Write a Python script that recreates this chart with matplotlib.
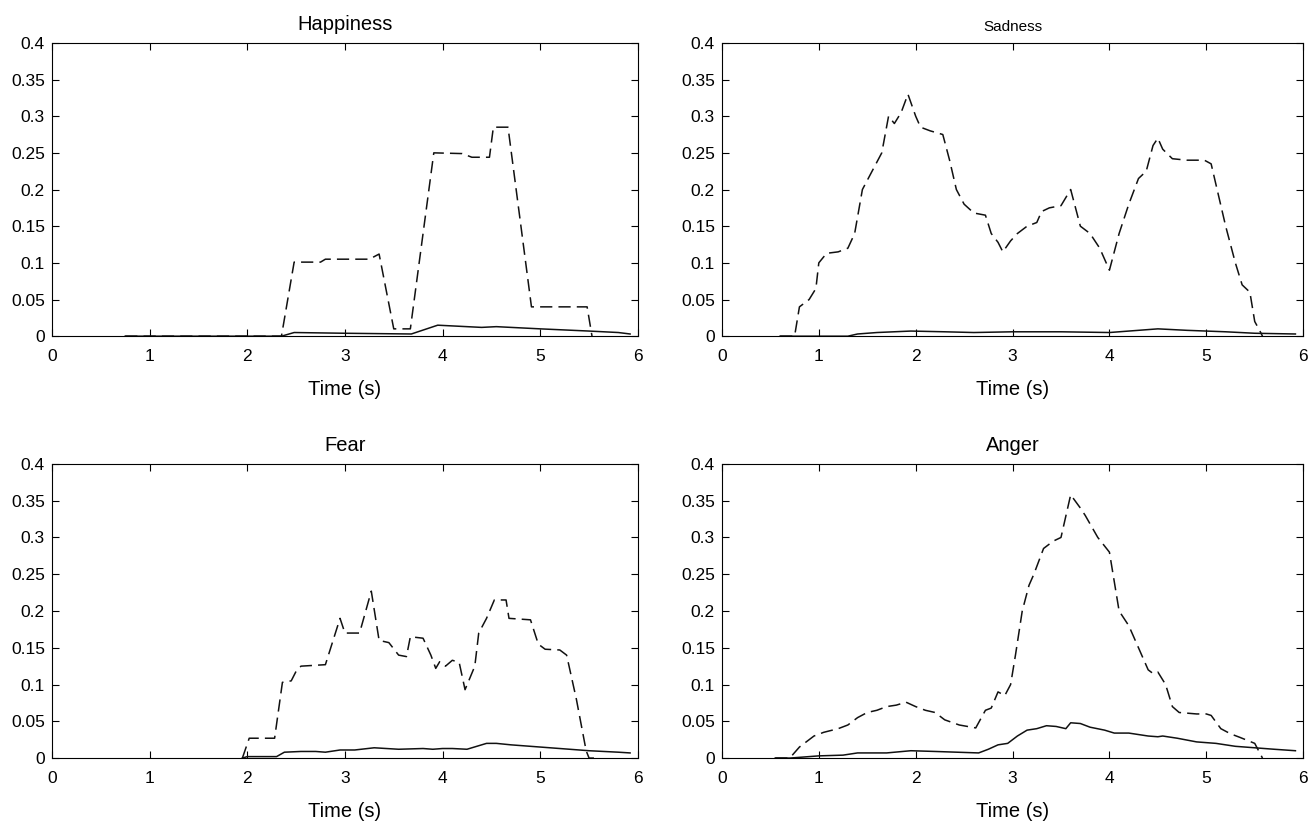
import matplotlib
matplotlib.use('Agg')
import matplotlib.pyplot as plt

plt.rcParams['font.family'] = ['Liberation Sans', 'DejaVu Sans']

titles = ['Happiness', 'Sadness', 'Fear', 'Anger']

# Happiness
hap_dash_t = [0.75, 2.35, 2.48, 2.75, 2.8, 3.25, 3.35, 3.5, 3.67, 3.91, 4.2, 4.3, 4.48, 4.52, 4.67, 4.91, 5.48, 5.53]
hap_dash_v = [0.0, 0.0, 0.101, 0.101, 0.105, 0.105, 0.112, 0.01, 0.01, 0.25, 0.249, 0.244, 0.244, 0.285, 0.285, 0.04, 0.04, 0.0]
hap_solid_t = [0.75, 2.35, 2.48, 3.0, 3.68, 3.95, 4.4, 4.55, 5.0, 5.5, 5.8, 5.92]
hap_solid_v = [0.0, 0.0, 0.005, 0.004, 0.003, 0.015, 0.012, 0.013, 0.01, 0.007, 0.005, 0.003]

# Sadness
sad_dash_t = [0.6, 0.75, 0.8, 0.9, 0.97, 1.0, 1.08, 1.2, 1.3, 1.37, 1.45, 1.55, 1.65, 1.72, 1.78, 1.85, 1.92,
              2.0, 2.05, 2.15, 2.28, 2.35, 2.42, 2.5, 2.6, 2.72, 2.78, 2.85, 2.9, 2.98, 3.05, 3.15, 3.25, 3.3,
              3.38, 3.5, 3.6, 3.7, 3.8, 3.9, 4.0, 4.1, 4.2, 4.3, 4.38, 4.45, 4.5, 4.55, 4.65, 4.8, 4.98, 5.05,
              5.2, 5.3, 5.37, 5.45, 5.5, 5.55, 5.58]
sad_dash_v = [0.0, 0.0, 0.04, 0.05, 0.065, 0.1, 0.113, 0.115, 0.12, 0.14, 0.2, 0.225, 0.25, 0.3, 0.29, 0.305, 0.33,
              0.3, 0.285, 0.28, 0.275, 0.24, 0.2, 0.18, 0.168, 0.165, 0.14, 0.128, 0.115, 0.13, 0.14, 0.15, 0.155, 0.17,
              0.175, 0.178, 0.2, 0.15, 0.14, 0.12, 0.09, 0.14, 0.18, 0.215, 0.225, 0.26, 0.27, 0.255, 0.242, 0.24, 0.24, 0.235,
              0.15, 0.1, 0.07, 0.06, 0.02, 0.008, 0.0]
sad_solid_t = [0.6, 1.3, 1.4, 1.6, 1.95, 2.3, 2.6, 3.0, 3.5, 4.0, 4.2, 4.5, 4.8, 5.2, 5.5, 5.92]
sad_solid_v = [0.0, 0.0, 0.003, 0.005, 0.007, 0.006, 0.005, 0.006, 0.006, 0.005, 0.007, 0.01, 0.008, 0.006, 0.004, 0.003]

# Fear
fear_dash_t = [1.95, 2.02, 2.28, 2.36, 2.45, 2.5, 2.55, 2.8, 2.95, 3.0, 3.15, 3.27, 3.35, 3.45, 3.55, 3.63, 3.67,
               3.8, 3.88, 3.93, 3.97, 4.03, 4.1, 4.17, 4.23, 4.33, 4.37, 4.45, 4.53, 4.65, 4.68, 4.9, 4.98, 5.05,
               5.2, 5.27, 5.37, 5.47, 5.5, 5.55]
fear_dash_v = [0.0, 0.027, 0.027, 0.103, 0.105, 0.118, 0.125, 0.127, 0.19, 0.17, 0.17, 0.227, 0.16, 0.157, 0.14, 0.138, 0.165,
               0.163, 0.14, 0.122, 0.131, 0.125, 0.133, 0.13, 0.093, 0.125, 0.17, 0.19, 0.215, 0.215, 0.19, 0.188, 0.155, 0.148,
               0.147, 0.14, 0.08, 0.01, 0.0, 0.0]
fear_solid_t = [1.95, 2.0, 2.3, 2.38, 2.55, 2.7, 2.8, 2.95, 3.1, 3.3, 3.55, 3.8, 3.9, 4.0, 4.1, 4.25, 4.45, 4.55, 4.7,
                5.0, 5.3, 5.5, 5.8, 5.92]
fear_solid_v = [0.0, 0.002, 0.002, 0.008, 0.009, 0.009, 0.008, 0.011, 0.011, 0.014, 0.012, 0.013, 0.012, 0.013, 0.013, 0.012,
                0.02, 0.02, 0.018, 0.015, 0.012, 0.01, 0.008, 0.007]

# Anger
ang_dash_t = [0.55, 0.7, 0.8, 0.85, 0.95, 1.05, 1.2, 1.3, 1.4, 1.5, 1.6, 1.7, 1.8, 1.9, 2.0, 2.1, 2.2, 2.3, 2.45,
              2.62, 2.72, 2.78, 2.85, 2.92, 2.98, 3.03, 3.1, 3.17, 3.22, 3.32, 3.42, 3.5, 3.6, 3.7, 3.75, 3.88, 4.0,
              4.1, 4.2, 4.3, 4.4, 4.45, 4.5, 4.58, 4.65, 4.72, 4.9, 5.0, 5.05, 5.15, 5.25, 5.35, 5.5, 5.58]
ang_dash_v = [0.0, 0.0, 0.015, 0.02, 0.03, 0.035, 0.04, 0.045, 0.055, 0.062, 0.065, 0.07, 0.072, 0.076, 0.07, 0.065, 0.062, 0.052, 0.045,
              0.041, 0.065, 0.068, 0.09, 0.085, 0.1, 0.14, 0.2, 0.235, 0.25, 0.285, 0.295, 0.3, 0.358, 0.34, 0.33, 0.3, 0.28,
              0.2, 0.18, 0.15, 0.12, 0.115, 0.117, 0.1, 0.07, 0.062, 0.06, 0.06, 0.058, 0.04, 0.033, 0.028, 0.02, 0.0]
ang_solid_t = [0.55, 0.7, 1.0, 1.25, 1.4, 1.7, 1.95, 2.2, 2.65, 2.75, 2.85, 2.95, 3.05, 3.15, 3.25, 3.35, 3.45, 3.55, 3.6,
               3.7, 3.8, 3.95, 4.05, 4.2, 4.4, 4.5, 4.55, 4.7, 4.9, 5.1, 5.3, 5.5, 5.7, 5.92]
ang_solid_v = [0.0, 0.0, 0.003, 0.004, 0.007, 0.007, 0.01, 0.009, 0.007, 0.012, 0.018, 0.02, 0.03, 0.038, 0.04, 0.044, 0.043, 0.04, 0.048,
               0.047, 0.042, 0.038, 0.034, 0.034, 0.03, 0.029, 0.03, 0.027, 0.022, 0.02, 0.016, 0.014, 0.012, 0.01]

dash_series = [(hap_dash_t, hap_dash_v), (sad_dash_t, sad_dash_v), (fear_dash_t, fear_dash_v), (ang_dash_t, ang_dash_v)]
solid_series = [(hap_solid_t, hap_solid_v), (sad_solid_t, sad_solid_v), (fear_solid_t, fear_solid_v), (ang_solid_t, ang_solid_v)]

yticks = [0, 0.05, 0.1, 0.15, 0.2, 0.25, 0.3, 0.35, 0.4]
ytick_labels = ['0', '0.05', '0.1', '0.15', '0.2', '0.25', '0.3', '0.35', '0.4']

fig = plt.figure(figsize=(13.15, 8.24), dpi=100)
positions = [
    [0.0395, 0.592, 0.4456, 0.356],
    [0.549, 0.592, 0.442, 0.356],
    [0.0395, 0.080, 0.4456, 0.357],
    [0.549, 0.080, 0.442, 0.357],
]

for i in range(4):
    ax = fig.add_axes(positions[i])
    ax.plot(dash_series[i][0], dash_series[i][1], color='#111111', lw=1.1, dashes=(8, 4))
    ax.plot(solid_series[i][0], solid_series[i][1], color='#111111', lw=1.1)
    ax.set_xlim(0, 6)
    ax.set_ylim(0, 0.4)
    ax.set_xticks(range(7))
    ax.set_yticks(yticks)
    ax.set_yticklabels(ytick_labels)
    ax.tick_params(direction='in', top=True, right=True, length=5, labelsize=12.5)
    ax.tick_params(axis='y', pad=5)
    ax.tick_params(axis='x', pad=9.5)
    ax.set_xlabel('Time (s)', fontsize=14.5, labelpad=11)
    if titles[i] == 'Sadness':
        ax.set_title(titles[i], fontsize=11, pad=8.5)
    else:
        ax.set_title(titles[i], fontsize=14.5, pad=9)

plt.savefig('out.png')
plt.close()
